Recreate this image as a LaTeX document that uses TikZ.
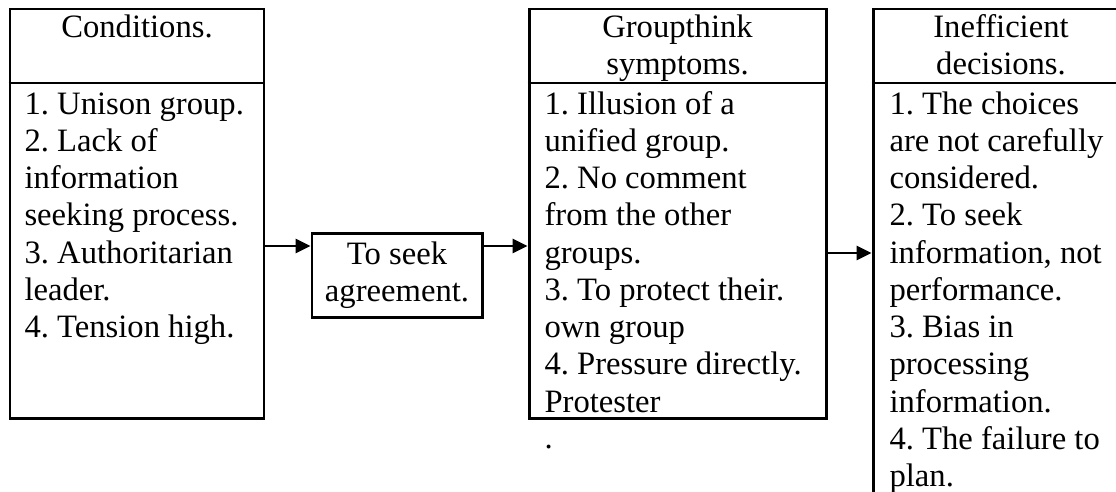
\documentclass[tikz,border=0pt]{standalone}
\usepackage{fontspec}
\setmainfont{Liberation Serif}
\usetikzlibrary{arrows.meta,fit}
\frenchspacing
\newcommand\leftlines[1]{\begin{tabular}[t]{@{}l@{}}#1\end{tabular}}
\newcommand\midlines[1]{\begin{tabular}[t]{@{}c@{}}#1\end{tabular}}
\begin{document}
\begin{tikzpicture}[x=0.36765pt,y=-0.36765pt,
  frame/.style={draw, line width=1.1pt, inner sep=0pt},
  rule/.style={line width=1.1pt},
  words/.style={inner sep=0pt, anchor=base west, font=\fontsize{12}{13.7}\selectfont},
  title/.style={inner sep=0pt, anchor=base, font=\fontsize{12}{13.7}\selectfont},
  link/.style={line width=0.9pt, -{Triangle[length=5.5pt,width=5.2pt]}}]
\useasboundingbox (0,0) rectangle (1116,491);
\clip (0,0) rectangle (1116,491);

% outer frames
\coordinate (c1a) at (10,9);   \coordinate (c1b) at (264,418);
\coordinate (agA) at (312,233); \coordinate (agB) at (482,317);
\coordinate (c3a) at (529,9);  \coordinate (c3b) at (826,418);
\coordinate (c4a) at (873,9);  \coordinate (c4b) at (1129,540);
\node[frame, fit=(c1a)(c1b)] (cond) {};
\node[frame, fit=(agA)(agB)] (agree) {};
\node[frame, fit=(c3a)(c3b)] (symp) {};
\node[frame, fit=(c4a)(c4b)] (dec) {};

% header dividers
\draw[rule] (cond.west |- 0,83) -- (cond.east |- 0,83);
\draw[rule] (symp.west |- 0,83) -- (symp.east |- 0,83);
\draw[rule] (dec.west |- 0,83) -- (dec.east |- 0,83);

% headers
\node[title] (condT) at (137,37) {\midlines{Conditions.}};
\node[title] (sympT) at (677.5,37) {\midlines{Groupthink\\symptoms.}};
\node[title] (decT) at (1001,37) {\midlines{Inefficient\\decisions.}};

% lists
\node[words] (condL) at (24,114) {\leftlines{1. Unison group.\\2. Lack of\\information\\seeking process.\\3. Authoritarian\\leader.\\4. Tension high.}};
\node[words] (sympL) at (544,114) {\leftlines{1. Illusion of a\\unified group.\\2. No comment\\from the other\\groups.\\3. To protect their.\\own group\\4. Pressure directly.\\Protester}};
\node[words] (dot) at (544,448) {.};
\node[words] (decL) at (889,114) {\leftlines{1. The choices\\are not carefully\\considered.\\2. To seek\\information, not\\performance.\\3. Bias in\\processing\\information.\\4. The failure to\\plan.}};
\node[title] (agreeT) at (397,264) {\midlines{To seek\\agreement.}};

% connectors
\coordinate (y1) at (0,246);
\coordinate (y3) at (0,253);
\draw[link] (cond.east |- y1) -- (agree.west |- y1);
\draw[link] (agree.east |- y1) -- (symp.west |- y1);
\draw[link] (symp.east |- y3) -- (dec.west |- y3);
\end{tikzpicture}
\end{document}
